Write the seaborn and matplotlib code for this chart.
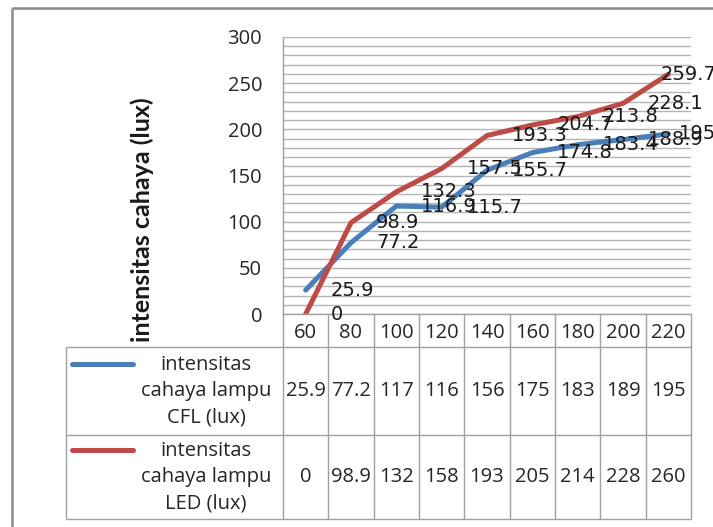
import numpy as np
import pandas as pd
import matplotlib
matplotlib.use("Agg")
import matplotlib.pyplot as plt
import seaborn as sns
from matplotlib.transforms import offset_copy

# Supply voltage (V) and measured light intensity (lux)
tegangan = [60, 80, 100, 120, 140, 160, 180, 200, 220]
cfl = [25.9, 77.2, 116.9, 115.7, 155.7, 174.8, 183.4, 188.9, 195.0]
led = [0.0, 98.9, 132.3, 157.5, 193.3, 204.7, 213.8, 228.1, 259.7]
series_names = ["intensitas\ncahaya lampu\nCFL (lux)",
                "intensitas\ncahaya lampu\nLED (lux)"]
y_label = "intensitas cahaya (lux)"
y_ticks = [0, 50, 100, 150, 200, 250, 300]

W, H, DPI = 713, 527, 100
COL_CFL, COL_LED = "#4a7ebb", "#be4b48"
GRID = "#b4b4b4"
RULE = "#a0a0a0"
TXT = "#262626"
BODY_FONT = ["Open Sans", "DejaVu Sans"]
BODY_SIZE = 14.5

sns.set_theme(style="white")
plt.rcParams["font.family"] = BODY_FONT

fig = plt.figure(figsize=(W / DPI, H / DPI), dpi=DPI)
fig.patch.set_facecolor("white")


def fig_box(l, t, r, b):
    return [l / W, 1 - b / H, (r - l) / W, (b - t) / H]


# ---- line chart -------------------------------------------------------
ax = fig.add_axes(fig_box(283, 37, 691, 314))
df = pd.DataFrame({
    "x": tegangan * 2,
    "y": cfl + led,
    "seri": [series_names[0]] * len(cfl) + [series_names[1]] * len(led),
})
palette = {series_names[0]: COL_CFL, series_names[1]: COL_LED}
sns.lineplot(data=df, x="x", y="y", hue="seri", palette=palette,
             estimator=None, linewidth=3.6, legend=False, ax=ax)

step = tegangan[1] - tegangan[0]
ax.set_xlim(tegangan[0] - step / 2, tegangan[-1] + step / 2)
ax.set_ylim(0, 300)
ax.set_yticks(y_ticks)
ax.set_yticks(np.arange(0, 301, 10), minor=True)
ax.grid(which="both", axis="y", color=GRID, linewidth=1.0)
ax.grid(which="both", axis="x", visible=False)
ax.set_axisbelow(True)
ax.set_xticks(tegangan)
ax.set_xticklabels([str(v) for v in tegangan])
ax.tick_params(axis="y", which="both", length=0, pad=15, labelsize=BODY_SIZE, labelcolor=TXT)
ax.tick_params(axis="x", which="both", length=0, pad=6.5, labelsize=BODY_SIZE, labelcolor=TXT)
ax.set_xlabel("")
ax.set_ylabel("")
for side in ("top", "right"):
    ax.spines[side].set_visible(False)
for side in ("left", "bottom"):
    ax.spines[side].set_color(RULE)
    ax.spines[side].set_linewidth(1.0)

fig.text(142 / W, 1 - 220 / H, y_label, rotation=90, ha="center", va="center",
         fontsize=18, fontweight="bold", color="#1a1a1a",
         family=["Lato", "DejaVu Sans"])

# data labels to the right of each point, kept inside the chart area
renderer = fig.canvas.get_renderer()
RIGHT_LIMIT = 716
labels = []
for vals in (cfl, led):
    for xv, yv in zip(tegangan, vals):
        t = ax.text(xv, yv, f"{yv:g}",
                    transform=offset_copy(ax.transData, fig=fig, x=25, y=0, units="dots"),
                    ha="left", va="center", fontsize=14, color="#1a1a1a",
                    family="DejaVu Sans", clip_on=False, zorder=5)
        labels.append(t)
for t in labels:
    bb = t.get_window_extent(renderer)
    if bb.x1 > RIGHT_LIMIT:
        shift = 25 - (bb.x1 - RIGHT_LIMIT)
        t.set_transform(offset_copy(ax.transData, fig=fig, x=shift, y=0, units="dots"))

# ---- data table below the chart ---------------------------------------
ov = fig.add_axes([0, 0, 1, 1])
ov.set_xlim(0, W)
ov.set_ylim(H, 0)
ov.axis("off")

edges = [tegangan[0] - step / 2 + i * step for i in range(len(tegangan) + 1)]
edge_px = [ax.transData.transform((e, 0))[0] for e in edges]
centers_px = [ax.transData.transform((v, 0))[0] for v in tegangan]

TOP, HEAD, ROW1, ROW2 = 314, 347, 435, 519
TAB_L = 66
for yv in (HEAD, ROW1, ROW2):
    ov.plot([TAB_L, edge_px[-1]], [yv, yv], color=RULE, lw=1.0, solid_capstyle="butt")
for xp in edge_px:
    ov.plot([xp, xp], [TOP, ROW2], color=RULE, lw=1.0, solid_capstyle="butt")
ov.plot([TAB_L, TAB_L], [HEAD, ROW2], color=RULE, lw=1.0, solid_capstyle="butt")

rows = [(cfl, COL_CFL, series_names[0], HEAD, ROW1),
        (led, COL_LED, series_names[1], ROW1, ROW2)]
for vals, col, name, y0, y1 in rows:
    yc = (y0 + y1) / 2
    ov.plot([72, 133], [yc - 27, yc - 27], color=col, lw=3.6, solid_capstyle="round")
    ov.text(206, yc, name, ha="center", va="center", fontsize=BODY_SIZE,
            color=TXT, linespacing=1.42)
    for cx, v in zip(centers_px, vals):
        ov.text(cx, yc, f"{v:.3g}", ha="center", va="center", fontsize=BODY_SIZE, color=TXT)

# outer chart frame
ov.plot([12, 12], [8, H], color="#8a8a8a", lw=1.8, solid_capstyle="butt")
ov.plot([12, W], [8, 8], color="#8a8a8a", lw=1.8, solid_capstyle="butt")

fig.savefig("out.png", dpi=DPI)
